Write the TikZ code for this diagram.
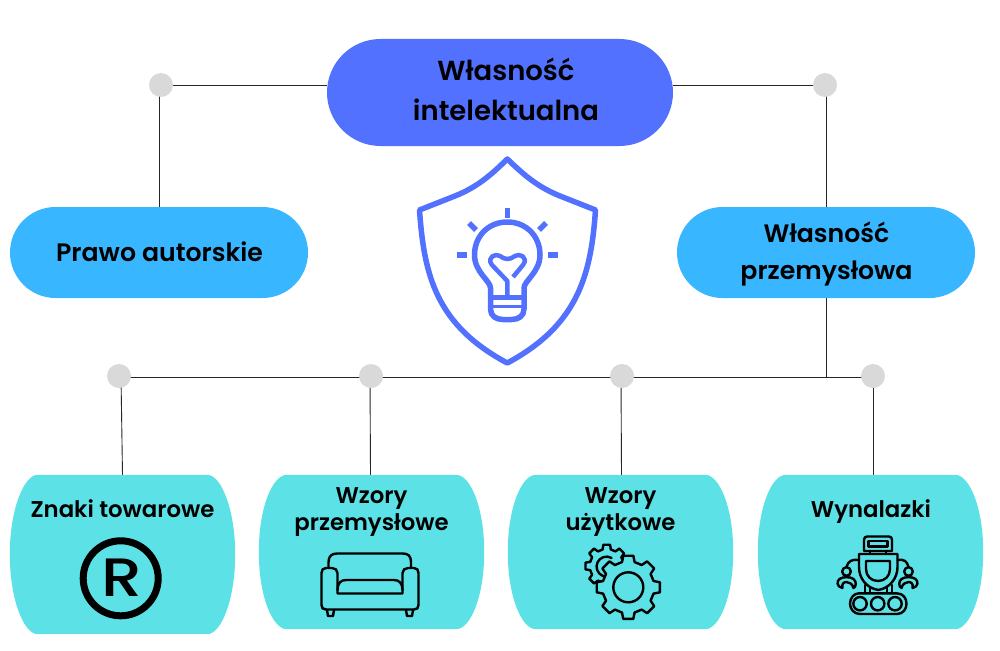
\documentclass[tikz,border=0pt]{standalone}
\usepackage{fontspec}
\setmainfont{Poppins}[UprightFont=* SemiBold]
\newfontfamily\regfont{Poppins Medium}
\usetikzlibrary{shapes.misc,backgrounds,positioning,calc}
\definecolor{topblue}{HTML}{5271FF}
\definecolor{midblue}{HTML}{38B6FF}
\definecolor{lowcyan}{HTML}{5CE1E6}
\definecolor{dotgrey}{HTML}{D9D9D9}
\tikzset{
  pill/.style={rounded rectangle, inner sep=0pt},
  toppill/.style={pill, fill=topblue, minimum width=346pt, minimum height=107pt},
  midpill/.style={pill, fill=midblue, minimum width=298pt, minimum height=91pt},
  barrel/.style={rectangle, inner sep=0pt, minimum width=225pt},
  toptext/.style={align=center, inner sep=0pt, font=\fontsize{27.5}{40}\selectfont},
  midtext/.style={align=center, inner sep=0pt, font=\fontsize{25.2}{37}\selectfont},
  barreltext/.style={align=center, inner sep=0pt, font=\fontsize{22.8}{26.5}\selectfont},
  dot/.style={circle, fill=dotgrey, inner sep=0pt, minimum size=24pt},
  conn/.style={draw=black!85, line width=0.9pt},
  shieldline/.style={draw=topblue, line width=5.5pt, line join=round},
  iconline/.style={draw=black, line width=2.4pt, line join=round, line cap=round}
}
\newcommand{\barrelfill}[1]{
  \fill[lowcyan] ([xshift=28pt]#1.north west) -- ([xshift=-28pt]#1.north east)
    .. controls ([xshift=-14pt]#1.north east) and ([yshift=45pt]#1.east) .. (#1.east)
    .. controls ([yshift=-45pt]#1.east) and ([xshift=-14pt]#1.south east) .. ([xshift=-28pt]#1.south east)
    -- ([xshift=28pt]#1.south west)
    .. controls ([xshift=14pt]#1.south west) and ([yshift=-45pt]#1.west) .. (#1.west)
    .. controls ([yshift=45pt]#1.west) and ([xshift=14pt]#1.north west) .. ([xshift=28pt]#1.north west) -- cycle;
}
% gear outline: centre, root radius, tooth radius
\newcommand{\gearpath}[3]{
  ($(#1)+(-14:#2)$)
  \foreach \a in {0,45,...,315} {
    -- ($(#1)+(\a-14:#2)$) -- ($(#1)+(\a-9:#3)$) -- ($(#1)+(\a+9:#3)$) -- ($(#1)+(\a+14:#2)$)
  } -- cycle
}
\begin{document}
\begin{tikzpicture}[x=1pt,y=-1pt]
\useasboundingbox (0,0) rectangle (1000,650);

% boxes
\node[toppill] (ip) at (500,92.5) {};
\node[midpill] (copyright) at (159,252.5) {};
\node[midpill] (industrial) at (826,252.5) {};
\node[toptext] (iptext) at (506,89.5) {Własność\\intelektualna};
\node[midtext] (copyrighttext) at (159.5,252) {Prawo autorskie};
\node[midtext] (industrialtext) at (826.5,254) {Własność\\przemysłowa};

\node[barrel, minimum height=159pt] (marks) at (122.5,554.5) {};
\node[barrel, minimum height=154pt] (designs) at (371.5,552) {};
\node[barrel, minimum height=154pt] (utility) at (620.5,552) {};
\node[barrel, minimum height=154pt] (inventions) at (870.5,552) {};
\foreach \b in {marks,designs,utility,inventions} {\barrelfill{\b}}

\node[barreltext] (markstext) at (122.5,509) {Znaki towarowe};
\node[barreltext] (designstext) at (371.5,512) {Wzory\\przemysłowe};
\node[barreltext] (utilitytext) at (620.5,512) {Wzory\\użytkowe};
\node[barreltext] (inventionstext) at (871,511.5) {Wynalazki};

% dots
\node[dot] (dotleft) at (161,85) {};
\node[dot] (dotright) at (825,85) {};
\node[dot] (dotmarks) at (119,376) {};
\node[dot] (dotdesigns) at (371,376) {};
\node[dot] (dotutility) at (622,376) {};
\node[dot] (dotinventions) at (873,376) {};
\coordinate (branch) at (826,377);

\begin{pgfonlayer}{background}
  \draw[conn] (dotleft) -- (dotleft -| ip.west);
  \draw[conn] (dotright) -- (dotright -| ip.east);
  \draw[conn] (dotleft -| copyright.north) -- (copyright.north);
  \draw[conn] (dotright -| industrial.north) -- (industrial.north);
  \draw[conn] (industrial.south) -- (branch);
  \draw[conn] (dotmarks.center |- branch) -- (dotinventions.center |- branch);
  \draw[conn] ([xshift=2pt]dotmarks.center) -- (marks.north);
  \draw[conn] ([xshift=-1pt]dotdesigns.center) -- ([xshift=-1pt]designs.north);
  \draw[conn] ([xshift=-1pt]dotutility.center) -- ([xshift=1pt]utility.north);
  \draw[conn] (dotinventions) -- (dotinventions |- inventions.north);
\end{pgfonlayer}

% shield with bulb
\draw[shieldline] (507.3,159) .. controls (490,176) and (477,187) .. (455,196) -- (419.5,210)
  .. controls (424,275) and (436,325) .. (507.3,363)
  .. controls (578,325) and (591,275) .. (595.5,210) -- (560,196)
  .. controls (538,187) and (525,176) .. (507.3,159) -- cycle;
\draw[shieldline] (490.5,288) -- (490.5,309) .. controls (490.5,316) and (496,319.5) .. (503,319.5)
  -- (511.5,319.5) .. controls (518.5,319.5) and (524,316) .. (524,309) -- (524,288)
  .. controls (524,281) and (540,272) .. (540,255)
  .. controls (540,236) and (526,222) .. (507.3,222)
  .. controls (488.5,222) and (474.5,236) .. (474.5,255)
  .. controls (474.5,272) and (490.5,281) .. (490.5,288) -- cycle;
\draw[shieldline, line width=5pt] (490.5,297) -- (524,297);
\draw[shieldline, line width=3pt] (491,306) -- (523,306);
\draw[shieldline, line width=4.5pt] (507.3,296) -- (507.3,281) -- (492,265)
  .. controls (486,257) and (496,253) .. (500,256)
  .. controls (503,258) and (505,259) .. (507.3,259)
  .. controls (510,259) and (512,258) .. (515,256)
  .. controls (519,253) and (529,257) .. (523,265) -- (513,277);
\draw[shieldline] (507.3,207.5) -- (507.3,217.5);
\draw[shieldline] (456.5,255) -- (466.5,255);
\draw[shieldline] (548,255) -- (558,255);
\draw[shieldline] (469,223) -- (476,230);
\draw[shieldline] (546,223) -- (539,230);

% registered mark
\draw[draw=black, line width=7pt] (120.7,578.3) circle (37.5);
\node[inner sep=0pt, xscale=1.2, font=\regfont\fontsize{54}{54}\selectfont] (regmark) at (122,578) {R};

% sofa
\draw[iconline] (328.5,567) -- (328.5,562) .. controls (328.5,556) and (332,553.5) .. (337,553.5)
  -- (403,553.5) .. controls (408,553.5) and (411,556) .. (411,562) -- (411,567);
\draw[iconline] (337.5,593.5) -- (337.5,573) .. controls (337.5,570) and (335,568) .. (332,568)
  -- (326,568) .. controls (323,568) and (321.5,570) .. (321.5,573)
  -- (321.5,605) .. controls (321.5,608) and (323,609.5) .. (326,609.5)
  -- (414,609.5) .. controls (417,609.5) and (418.5,608) .. (418.5,605)
  -- (418.5,573) .. controls (418.5,570) and (417,568) .. (414,568)
  -- (408,568) .. controls (405,568) and (402.5,570) .. (402.5,573)
  -- (402.5,593.5) -- cycle;
\draw[iconline] (337.5,590) .. controls (337.5,583) and (341,580) .. (346,580)
  -- (394,580) .. controls (399,580) and (402.5,583) .. (402.5,590);
\draw[iconline] (327,610) -- (328,616) -- (333,616) -- (334,610);
\draw[iconline] (406,610) -- (407,616) -- (412,616) -- (413,610);

% gears
\draw[iconline, fill=lowcyan] \gearpath{606.7,566}{17}{21.5};
\draw[iconline] (610,576) arc (70:300:10);
\draw[iconline, fill=lowcyan] \gearpath{628.3,587.3}{26}{32};
\draw[iconline] (628.3,587.3) circle (15);

% robot
\draw[iconline] (867,536.5) -- (889,536.5) .. controls (891,536.5) and (892,538) .. (892,540)
  -- (892,551) -- (864,551) -- (864,540) .. controls (864,538) and (865,536.5) .. (867,536.5) -- cycle;
\draw[iconline] (868.5,541) rectangle (887.5,546.5);
\draw[iconline] (870,551) -- (870,554) (886,551) -- (886,554);
\draw[iconline] (859,554) -- (897.5,554) -- (897.5,567) .. controls (897.5,578) and (890,588) .. (878.3,590)
  .. controls (866,588) and (859,578) .. (859,567) -- cycle;
\draw[iconline] (866,561) -- (890,561) -- (890,569) .. controls (890,576) and (885,581) .. (878,581)
  .. controls (871,581) and (866,576) .. (866,569) -- cycle;
\draw[iconline] (865,585) -- (865,593) (870,587) -- (870,593) (887,587) -- (887,593) (892,585) -- (892,593);
\draw[iconline] (858.5,593.4) -- (897,593.4) .. controls (903,593.4) and (906.5,598) .. (906.5,603.7)
  .. controls (906.5,609) and (903,614) .. (897,614) -- (860,614)
  .. controls (854,614) and (850,609) .. (850,603.7) .. controls (850,598) and (854,593.4) .. (858.5,593.4);
\foreach \w in {860,877.7,895} {\draw[iconline] (\w,603.7) circle (6.7);}
\foreach \s/\m in {846.5/1,908.5/-1} {
  \draw[iconline] (\s,571.5) circle (4.3);
  \draw[iconline] (\s-4*\m,588) .. controls (\s-10*\m,587) and (\s-10*\m,581) .. (\s-7*\m,579)
    .. controls (\s-4*\m,576.5) and (\s+4*\m,576.5) .. (\s+7*\m,579)
    .. controls (\s+10*\m,581) and (\s+10*\m,587) .. (\s+7*\m,588)
    .. controls (\s+6*\m,584) and (\s+3*\m,582) .. (\s,582)
    .. controls (\s-3*\m,582) and (\s-5*\m,584) .. (\s-4*\m,588);
}
\draw[iconline] (859,560) .. controls (852,559) and (848,561) .. (846.5,567);
\draw[iconline] (897.5,560) .. controls (904,559) and (907,561) .. (908.5,567);
\end{tikzpicture}
\end{document}
